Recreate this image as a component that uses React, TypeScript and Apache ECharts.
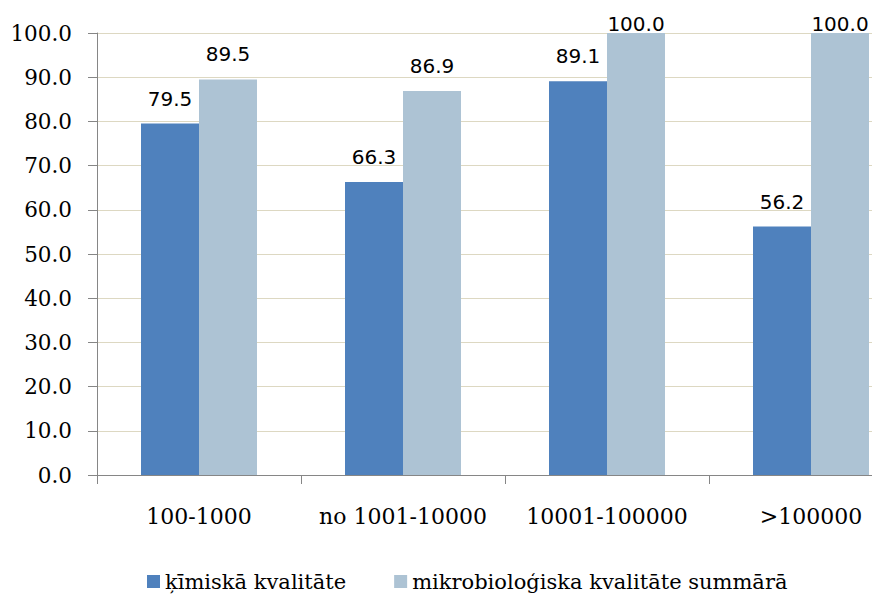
import React, { useEffect, useRef } from "react";
import * as echarts from "echarts";

const categories = ["100-1000", "no 1001-10000", "10001-100000", ">100000"];
const chemical = [79.5, 66.3, 89.1, 56.2];
const microbio = [89.5, 86.9, 100.0, 100.0];
const seriesNames = ["ķīmiskā kvalitāte", "mikrobioloģiska kvalitāte summārā"];

export default function App() {
  const ref = useRef<HTMLDivElement>(null);
  useEffect(() => {
    if (!ref.current) return;
    const chart = echarts.init(ref.current, undefined, { renderer: "svg" });
    const labelStyle = {
      show: true,
      position: "top",
      distance: 15,
      fontFamily: "DejaVu Sans",
      fontSize: 20,
      color: "#000",
      formatter: (p: any) => Number(p.value).toFixed(1),
    };
    const mk = (arr: number[]) =>
      arr.map((v) => (v >= 100 ? { value: v, label: { distance: -1 } } : v));
    chart.setOption({
      animation: false,
      backgroundColor: "#fff",
      grid: { left: 97, top: 33, width: 816, height: 442 },
      legend: {
        top: 566,
        left: 142,
        itemGap: 48,
        icon: "rect",
        itemWidth: 13,
        itemHeight: 13,
        textStyle: { fontFamily: "DejaVu Serif", fontSize: 21, color: "#000" },
        data: seriesNames,
      },
      xAxis: {
        type: "category",
        data: categories,
        axisLine: { lineStyle: { color: "#868686", width: 1 } },
        axisTick: { show: true, interval: 0, length: 9, lineStyle: { color: "#868686" } },
        axisLabel: {
          interval: 0,
          hideOverlap: false,
          margin: 30,
          fontFamily: "DejaVu Serif",
          fontSize: 22,
          color: "#000",
        },
      },
      yAxis: {
        type: "value",
        min: 0,
        max: 100,
        interval: 10,
        axisLine: { show: true, lineStyle: { color: "#868686", width: 1 } },
        axisTick: { show: true, length: 9, lineStyle: { color: "#868686" } },
        axisLabel: {
          margin: 25,
          fontFamily: "DejaVu Serif",
          fontSize: 21.5,
          color: "#000",
          formatter: (v: number) => v.toFixed(1),
        },
        splitLine: { lineStyle: { color: "#ddd8c2", width: 1 } },
      },
      series: [
        {
          name: seriesNames[0],
          type: "bar",
          data: mk(chemical),
          barWidth: 58,
          barGap: "0%",
          itemStyle: { color: "#4f81bd" },
          label: labelStyle,
        },
        {
          name: seriesNames[1],
          type: "bar",
          data: mk(microbio),
          barWidth: 58,
          barGap: "0%",
          itemStyle: { color: "#adc3d4" },
          label: labelStyle,
        },
      ],
    });
    return () => chart.dispose();
  }, []);
  return (
    <div style={{ position: "fixed", left: 0, top: 0, width: 872, height: 594, overflow: "hidden", background: "#fff" }}>
      <div ref={ref} style={{ width: 930, height: 594 }} />
    </div>
  );
}
